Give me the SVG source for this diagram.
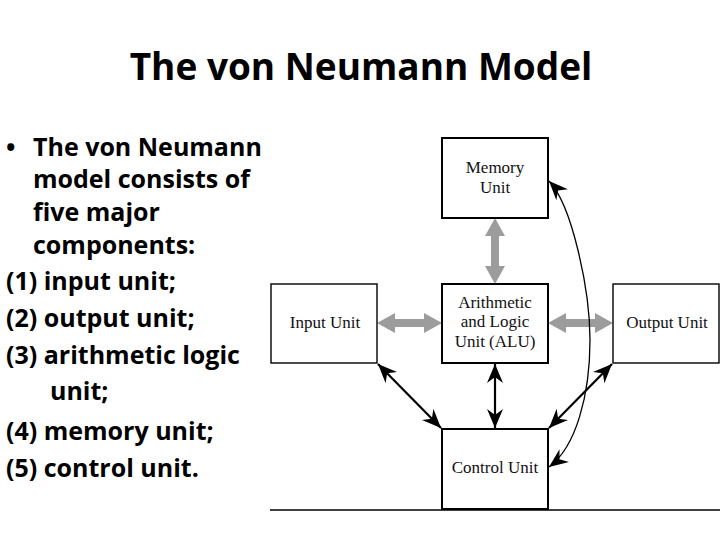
<svg xmlns="http://www.w3.org/2000/svg" width="720" height="540" viewBox="0 0 720 540">
<style>
.title{font-family:"Open Sans","Liberation Sans",sans-serif;font-weight:bold;font-size:37px;fill:#000}
.bt{font-family:"Open Sans","Liberation Sans",sans-serif;font-weight:bold;font-size:25px;fill:#000}
.box{fill:#fff;stroke:#000;stroke-width:2}
.boxthin{fill:#fff;stroke:#000;stroke-width:1.4}
.lbl{font-family:"Liberation Serif","Times New Roman",serif;font-size:17px;fill:#111;text-anchor:middle}
.grey{fill:#9c9c9c}
.blk{stroke:#000;stroke-width:2.2;fill:none}
.thin{stroke:#000;stroke-width:1.3;fill:none}
</style>
<defs>
<marker id="ah" viewBox="-20 -9 21 18" refX="0" refY="0" markerWidth="21" markerHeight="18" markerUnits="userSpaceOnUse" orient="auto-start-reverse">
<path d="M0,0 L-19,-8 L-13,0 L-19,8 z" fill="#000"/>
</marker>
</defs>
<rect width="720" height="540" fill="#fff"/>
<text class="title" x="361" y="80" text-anchor="middle">The von Neumann Model</text>
<g id="bullets">
<text class="bt" x="6" y="156">•</text>
<text class="bt" x="33" y="156">The von Neumann</text>
<text class="bt" x="33" y="188">model consists of</text>
<text class="bt" x="33" y="221">five major</text>
<text class="bt" x="33" y="254">components:</text>
<text class="bt" x="6" y="290">(1) input unit;</text>
<text class="bt" x="6" y="327">(2) output unit;</text>
<text class="bt" x="6" y="364">(3) arithmetic logic</text>
<text class="bt" x="50" y="400">unit;</text>
<text class="bt" x="6" y="440">(4) memory unit;</text>
<text class="bt" x="6" y="477">(5) control unit.</text>
</g>
<g id="connectors">
<polygon class="grey" points="495,218 505,236 499,236 499,266 505,266 495,284 485,266 491,266 491,236 485,236"/>
<polygon class="grey" points="377,323 395,313 395,319 424,319 424,313 442,323 424,333 424,327 395,327 395,333"/>
<polygon class="grey" points="548,323 566,313 566,319 595,319 595,313 613,323 595,333 595,327 566,327 566,333"/>
<line class="blk" x1="378" y1="364" x2="441" y2="428" marker-start="url(#ah)" marker-end="url(#ah)"/>
<line class="blk" x1="495" y1="364" x2="495" y2="428" marker-start="url(#ah)" marker-end="url(#ah)"/>
<line class="blk" x1="612" y1="364" x2="549" y2="428" marker-start="url(#ah)" marker-end="url(#ah)"/>
<path class="thin" d="M549,181 C572,205 590,290 590,340 C590,395 576,447 549,467" marker-start="url(#ah)" marker-end="url(#ah)"/>
</g>
<g id="memory">
<rect class="box" x="442" y="138" width="106" height="80"/>
<text class="lbl" x="495" y="173">Memory</text>
<text class="lbl" x="495" y="193">Unit</text>
</g>
<g id="alu">
<rect class="box" x="442" y="284" width="106" height="79"/>
<text class="lbl" x="495" y="308">Arithmetic</text>
<text class="lbl" x="495" y="327">and Logic</text>
<text class="lbl" x="495" y="347">Unit (ALU)</text>
</g>
<g id="input">
<rect class="boxthin" x="271" y="284" width="106" height="79"/>
<text class="lbl" x="325" y="328">Input Unit</text>
</g>
<g id="output">
<rect class="boxthin" x="613" y="284" width="106" height="79"/>
<text class="lbl" x="667" y="328">Output Unit</text>
</g>
<g id="control">
<rect class="box" x="442" y="429" width="106" height="80"/>
<text class="lbl" x="495" y="473">Control Unit</text>
</g>
<line x1="270" y1="510" x2="720" y2="510" stroke="#000" stroke-width="1.5"/>
</svg>
